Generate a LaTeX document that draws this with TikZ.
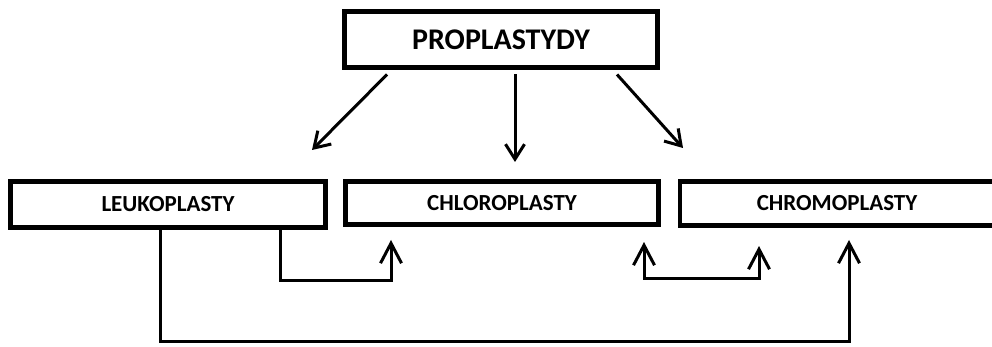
\documentclass[tikz,border=0pt]{standalone}
\usepackage{fontspec}
\setmainfont{Carlito}
\usetikzlibrary{arrows.meta,calc}
\tikzset{
  bigbox/.style={draw, line width=5pt, rectangle, inner sep=0pt, outer sep=0pt, font=\bfseries\fontsize{30}{32}\selectfont},
  smallbox/.style={draw, line width=4.6pt, rectangle, inner sep=0pt, outer sep=0pt, font=\bfseries\fontsize{23}{25}\selectfont},
  conn/.style={line width=3pt},
  tophead/.style={-{Straight Barb[length=15pt,width=19pt,line width=3pt]}},
  bothead/.style={-{Straight Barb[length=20pt,width=21pt,line width=3pt]}},
  twohead/.style={{Straight Barb[length=20pt,width=21pt,line width=3pt]}-{Straight Barb[length=20pt,width=21pt,line width=3pt]}}
}
\begin{document}
\begin{tikzpicture}[x=1pt,y=-1pt]
\useasboundingbox (0,0) rectangle (992,347);
\fill[white] (0,0) rectangle (992,347);
\begin{scope}
\clip (0,0) rectangle (992,347);
\node[bigbox, minimum width=312.5pt, minimum height=56pt] (prop) at (501,39.5) {PROPLASTYDY};
\node[smallbox, minimum width=315pt, minimum height=46pt] (leuko) at (168,204.5) {LEUKOPLASTY};
\node[smallbox, minimum width=313pt, minimum height=43pt] (chloro) at (502,203) {CHLOROPLASTY};
\node[smallbox, minimum width=330pt, minimum height=44pt, text width=320pt, align=center] (chromo) at (845,203.5) {\hspace*{-16pt}CHROMOPLASTY};
\end{scope}
% free ends
\coordinate (t1) at (312,150);
\coordinate (t2) at (515,162);
\coordinate (t3) at (683,148);
\coordinate (a1) at (391,240);
\coordinate (b1) at (644,242);
\coordinate (b2) at (759,246);
\coordinate (c1) at (849,240);
% top arrows
\draw[conn, tophead] ($(prop.south)+(-114,7)$) -- (t1);
\draw[conn, tophead] ($(prop.south)+(14,7)$) -- (t2);
\draw[conn, tophead] ($(prop.south)+(116,7)$) -- (t3);
% bottom connectors
\draw[conn, bothead] ($(leuko.south)+(112,0)$) -- ++(0,53) -| (a1);
\draw[conn, twohead] (b1) -- ++(0,36) -| (b2);
\draw[conn, bothead] ($(leuko.south)+(-8,2)$) -- ++(0,112) -| (c1);
\end{tikzpicture}
\end{document}
